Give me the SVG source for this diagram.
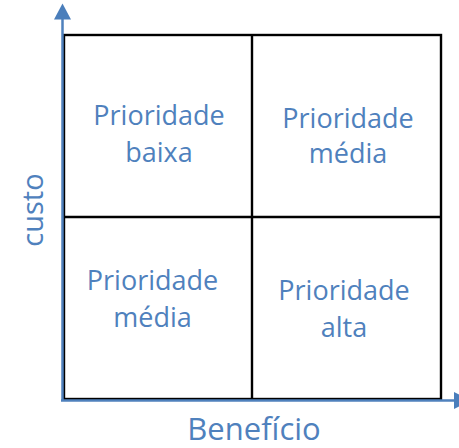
<svg xmlns="http://www.w3.org/2000/svg" width="459" height="448" viewBox="0 0 459 448">
<style>
.lbl{font-family:"Open Sans","Noto Sans",sans-serif;font-size:27px;fill:#4F81BD;text-anchor:middle}
.grid{fill:none;stroke:#000;stroke-width:2.4}
.axis{stroke:#4F81BD;stroke-width:2.5;fill:none}
.head{fill:#4A7EBB}
</style>
<rect width="459" height="448" fill="#fff"/>
<g id="grid">
<rect class="grid" x="64" y="35" width="377" height="364"/>
<line class="grid" x1="252" y1="35" x2="252" y2="399"/>
<line class="grid" x1="64" y1="217" x2="441" y2="217"/>
</g>
<g id="connectors">
<line class="axis" x1="62.5" y1="401" x2="62.5" y2="18"/>
<polygon class="head" points="62.5,3.5 54,19.5 71,19.5"/>
<line class="axis" x1="61" y1="400.5" x2="456" y2="400.5"/>
<polygon class="head" points="471,400.5 454,392 454,409"/>
</g>
<g id="q-top-left"><text class="lbl" x="159" y="125">Prioridade</text><text class="lbl" x="159" y="162">baixa</text></g>
<g id="q-top-right"><text class="lbl" x="348" y="128">Prioridade</text><text class="lbl" x="348" y="163">média</text></g>
<g id="q-bottom-left"><text class="lbl" x="152.5" y="290">Prioridade</text><text class="lbl" x="152.5" y="327">média</text></g>
<g id="q-bottom-right"><text class="lbl" x="344" y="300">Prioridade</text><text class="lbl" x="344" y="337">alta</text></g>
<g id="x-label"><text class="lbl" x="254" y="440" style="font-size:31px">Benefício</text></g>
<g id="y-label"><text class="lbl" transform="translate(43,210) rotate(-90)" x="0" y="0" style="font-size:29px">custo</text></g>
</svg>
